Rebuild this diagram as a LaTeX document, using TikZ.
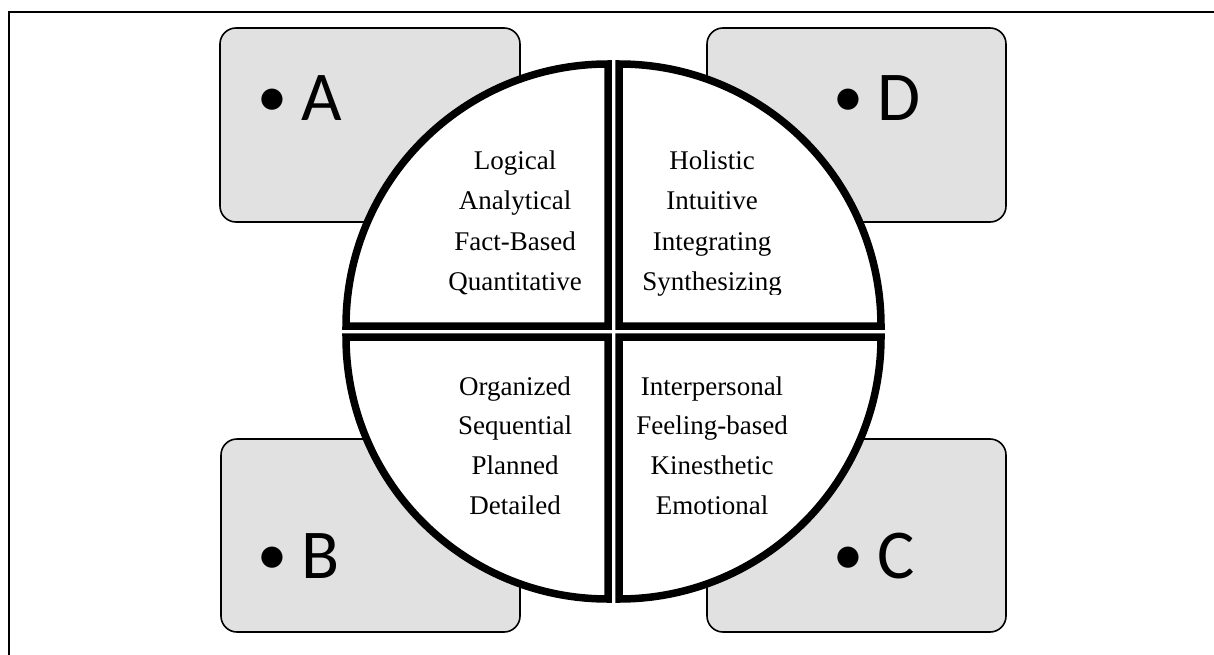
\documentclass[tikz,border=0pt]{standalone}
\usepackage{fontspec}
\setmainfont{Liberation Serif}
\newfontfamily\boxfont{Carlito}
\definecolor{boxgray}{RGB}{225,225,225}
\newcommand{\bul}{\raisebox{4pt}{\fontsize{60}{60}\selectfont\textbullet}}
\tikzset{
  lbox/.style={draw=black, line width=1.6pt, fill=boxgray, rounded corners=16pt},
  quad/.style={draw=black, fill=white, line width=7.5pt, line join=miter},
  btext/.style={anchor=base west, inner sep=0pt, font=\boxfont\fontsize{70}{84}\selectfont},
  qtext/.style={anchor=base, inner sep=0pt, font=\fontsize{27}{32}\selectfont},
  frame/.style={draw=black, line width=2pt}
}
\begin{document}
\begin{tikzpicture}[x=1pt,y=-1pt]
\path[use as bounding box] (0,0) rectangle (1214,655);
\clip (0,0) rectangle (1214,655);
% outer frame (right and bottom sides lie outside the picture)
\draw[frame] (8.5,12) rectangle (1230,680);
% letter boxes
\draw[lbox] (220,28) rectangle (520,222);
\draw[lbox] (707,28) rectangle (1006,222);
\draw[lbox] (221,439) rectangle (520,632);
\draw[lbox] (707,439) rectangle (1006,632);
\node[btext] (la) at (257,121) {\bul\hspace{14pt}A};
\node[btext] (ld) at (833,121) {\bul\hspace{14pt}D};
\node[btext] (lb) at (257,578) {\bul\hspace{14pt}B};
\node[btext] (lc) at (833,578) {\bul\hspace{14pt}C};
% circle quadrants
\draw[quad] (608,326) -- (608,64) arc[start angle=270, end angle=180, radius=262] -- cycle;
\draw[quad] (619,326) -- (619,64) arc[start angle=270, end angle=360, radius=262] -- cycle;
\draw[quad] (608,337) -- (608,599) arc[start angle=90, end angle=180, radius=262] -- cycle;
\draw[quad] (619,337) -- (619,599) arc[start angle=90, end angle=0, radius=262] -- cycle;
% quadrant texts
\foreach \t [count=\i] in {Logical,Analytical,Fact-Based,Quantitative}
  \node[qtext] (ul\i) at (515,{169+40.5*(\i-1)}) {\t};
\begin{scope}
\clip (620,60) -- (880,60) -- (880,294) -- (766,294) -- (766,320) -- (620,320) -- cycle;
\foreach \t [count=\i] in {Holistic,Intuitive,Integrating,Synthesizing}
  \node[qtext] (ur\i) at (712,{169+40.5*(\i-1)}) {\t};
\end{scope}
\foreach \t [count=\i] in {Organized,Sequential,Planned,Detailed}
  \node[qtext] (ll\i) at (515,{395+39.7*(\i-1)}) {\t};
\foreach \t [count=\i] in {Interpersonal,Feeling-based,Kinesthetic,Emotional}
  \node[qtext] (lr\i) at (712,{395+39.7*(\i-1)}) {\t};
\end{tikzpicture}
\end{document}
